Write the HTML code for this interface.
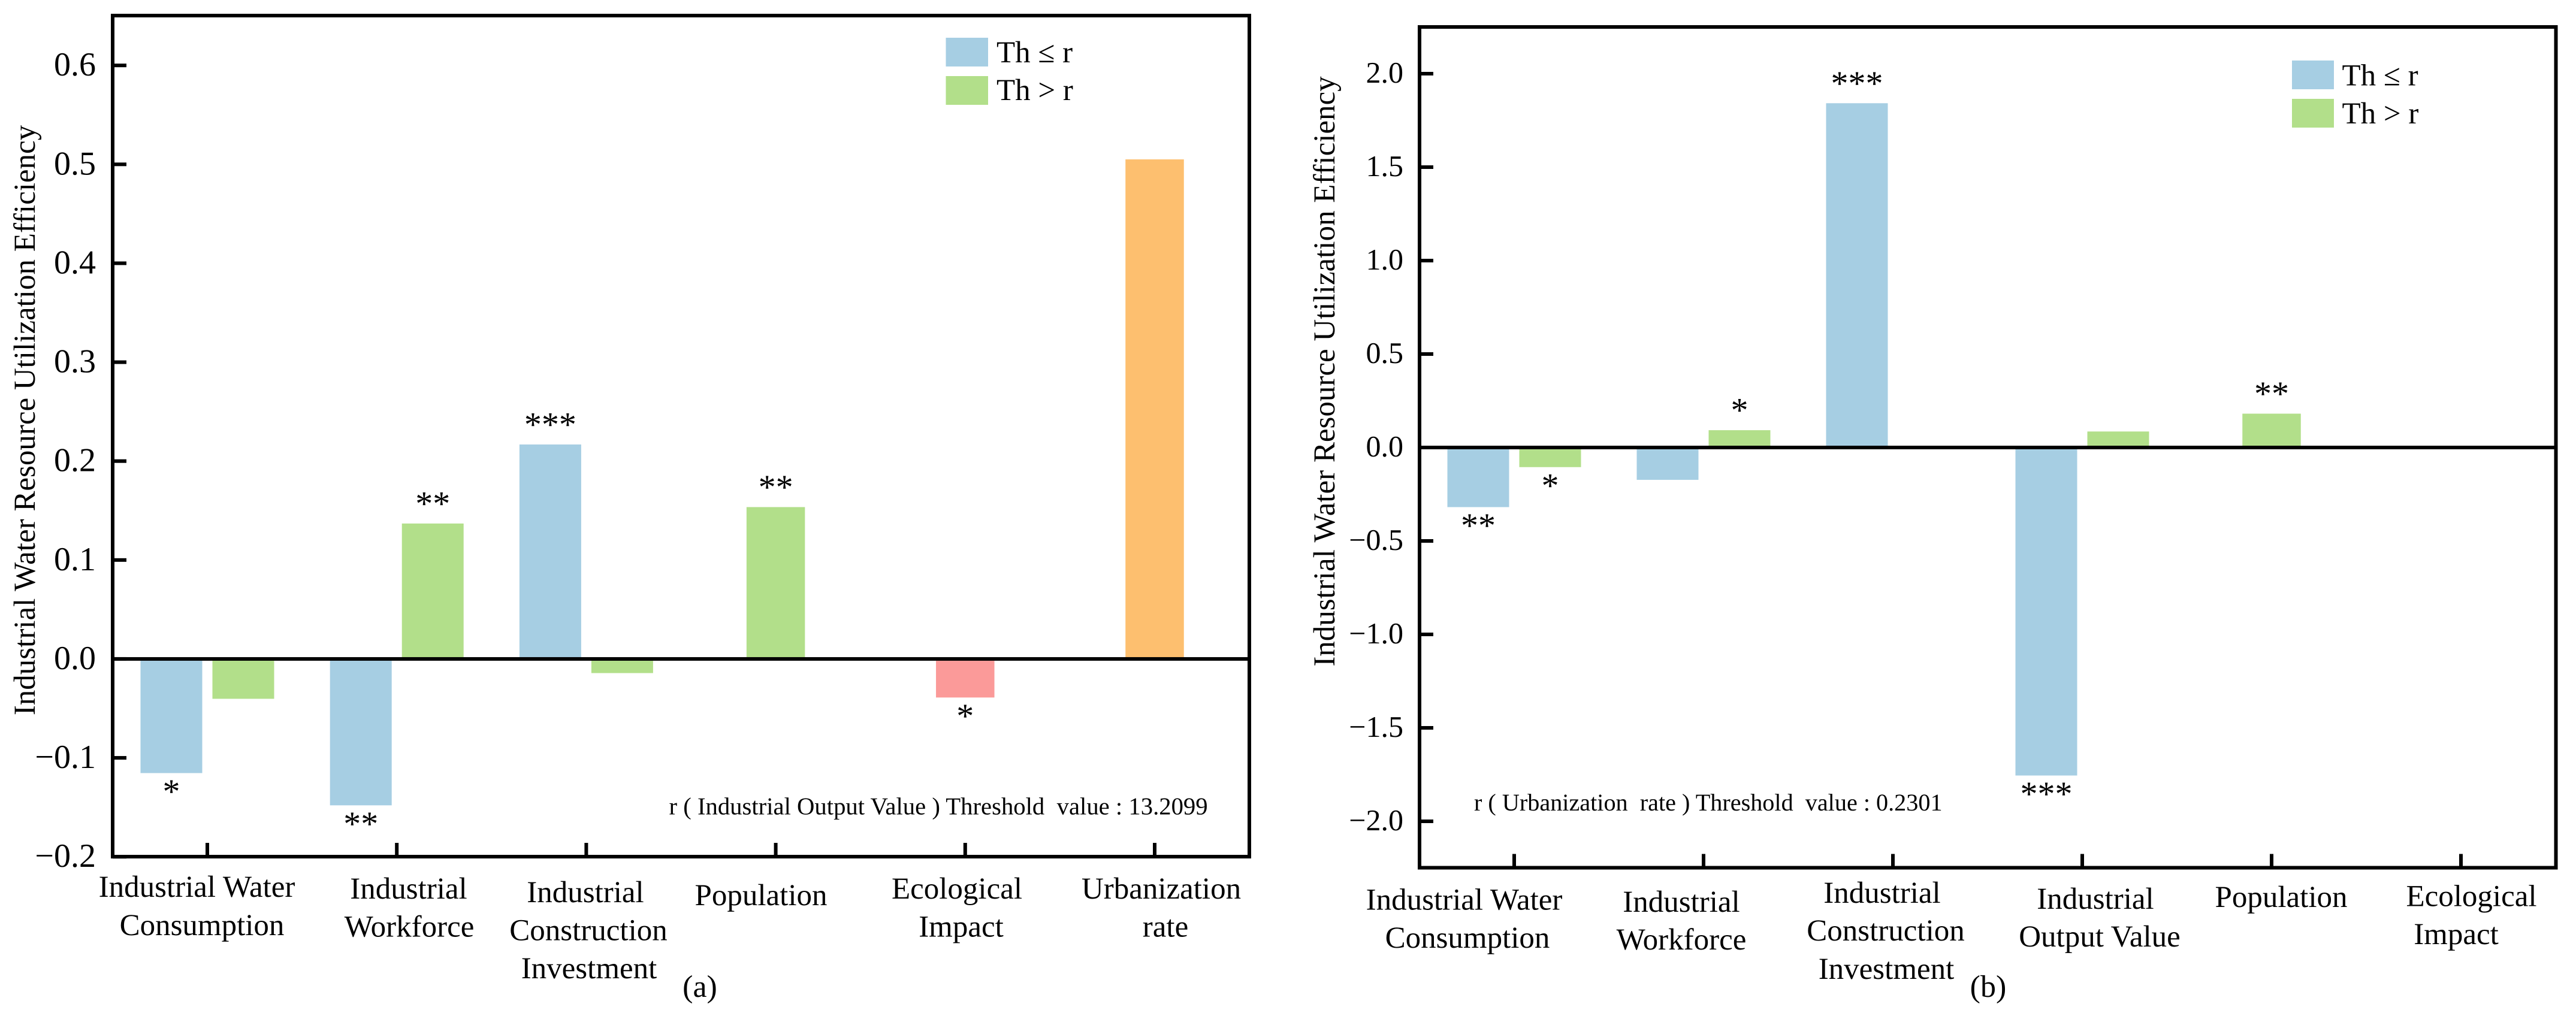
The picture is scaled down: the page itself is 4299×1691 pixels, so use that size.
<!DOCTYPE html>
<html lang="en">
<head>
<meta charset="utf-8">
<title>Threshold regression coefficients</title>
<style>
html,body{margin:0;padding:0;background:#fff;width:4299px;height:1691px;overflow:hidden}
svg{display:block;position:absolute;left:0;top:0}
text{font-family:"Liberation Serif","Times New Roman",serif;fill:#000;white-space:pre;text-rendering:geometricPrecision}
.cat{font-size:51px;text-anchor:middle}
.leg{font-size:51px}
.ann{font-size:40.2px}
.ann-a{font-size:40.7px}
.ylab{font-size:51px;text-anchor:middle}
.sub{font-size:52px;text-anchor:middle}
</style>
</head>
<body>
<svg id="figure" xmlns="http://www.w3.org/2000/svg" width="4299" height="1691" viewBox="0 0 4299 1691">
  <g id="chart-a">
    <text class="ylab" transform="translate(58,701.5) rotate(-90)">Industrial Water Resource Utilization Efficiency</text>
    <g id="plot-a"></g>
    <g>
      <text class="cat" x="328.5" y="1497">Industrial Water</text>
      <text class="cat" x="337" y="1561">Consumption</text>
      <text class="cat" x="682" y="1500">Industrial</text>
      <text class="cat" x="683" y="1563.5">Workforce</text>
      <text class="cat" x="977" y="1506">Industrial</text>
      <text class="cat" x="982" y="1569.5">Construction</text>
      <text class="cat" x="983" y="1633">Investment</text>
      <text class="cat" x="1270" y="1511">Population</text>
      <text class="cat" x="1597" y="1500">Ecological</text>
      <text class="cat" x="1604" y="1563.5">Impact</text>
      <text class="cat" x="1938" y="1500">Urbanization</text>
      <text class="cat" x="1945" y="1563.5">rate</text>
    </g>
    <g>
      <rect x="1578.5" y="63" width="70.5" height="48" fill="#A6CEE3"/>
      <text class="leg" x="1663" y="104">Th ≤ r</text>
      <rect x="1578.5" y="127" width="70.5" height="48" fill="#B2DF8A"/>
      <text class="leg" x="1663" y="167">Th &gt; r</text>
    </g>
    <text class="ann-a" x="1116.5" y="1359.5">r ( Industrial Output Value ) Threshold  value : 13.2099</text>
    <text class="sub" x="1168" y="1664">(a)</text>
  </g>
  <g id="chart-b">
    <text class="ylab" transform="translate(2227,620) rotate(-90)">Industrial Water Resource Utilization Efficiency</text>
    <g id="plot-b"></g>
    <g>
      <text class="cat" x="2443.5" y="1518.5">Industrial Water</text>
      <text class="cat" x="2449" y="1582">Consumption</text>
      <text class="cat" x="2806" y="1522">Industrial</text>
      <text class="cat" x="2806" y="1585">Workforce</text>
      <text class="cat" x="3141" y="1507">Industrial</text>
      <text class="cat" x="3147" y="1570">Construction</text>
      <text class="cat" x="3148" y="1634">Investment</text>
      <text class="cat" x="3497" y="1517">Industrial</text>
      <text class="cat" x="3504" y="1580">Output Value</text>
      <text class="cat" x="3807" y="1514">Population</text>
      <text class="cat" x="4124.5" y="1512.5">Ecological</text>
      <text class="cat" x="4099" y="1576">Impact</text>
    </g>
    <g>
      <rect x="3825" y="101" width="70" height="48" fill="#A6CEE3"/>
      <text class="leg" x="3908.5" y="142.5">Th ≤ r</text>
      <rect x="3825" y="165" width="70" height="48" fill="#B2DF8A"/>
      <text class="leg" x="3908.5" y="206">Th &gt; r</text>
    </g>
    <text class="ann" x="2460" y="1353">r ( Urbanization  rate ) Threshold  value : 0.2301</text>
    <text class="sub" x="3318" y="1664">(b)</text>
  </g>
</svg>
<script>
// ---- data: panel (a) ----
const categoriesA = ["Industrial Water Consumption", "Industrial Workforce", "Industrial Construction Investment", "Population", "Ecological Impact", "Urbanization rate"];
const thLowA  = [-0.1154, -0.148, 0.2168, null, null, null];
const thHighA = [-0.0403, 0.1369, -0.0143, 0.1535, null, null];
const ecologicalA = [null, null, null, null, -0.039, null];
const urbanizationA = [null, null, null, null, null, 0.505];
const thLowStarsA  = ["*", "**", "***", "", "", ""];
const thHighStarsA = ["", "**", "", "**", "", ""];
const ecologicalStarsA = ["", "", "", "", "*", ""];
const urbanizationStarsA = ["", "", "", "", "", ""];
const tickValuesA = [-0.2, -0.1, 0, 0.1, 0.2, 0.3, 0.4, 0.5, 0.6];
const tickLabelsA = ["\u22120.2", "\u22120.1", "0.0", "0.1", "0.2", "0.3", "0.4", "0.5", "0.6"];

// ---- data: panel (b) ----
const categoriesB = ["Industrial Water Consumption", "Industrial Workforce", "Industrial Construction Investment", "Industrial Output Value", "Population", "Ecological Impact"];
const thLowB  = [-0.319, -0.173, 1.842, -1.755, null, null];
const thHighB = [-0.105, 0.0926, null, 0.0856, 0.181, null];
const thLowStarsB  = ["**", "", "***", "***", "", ""];
const thHighStarsB = ["*", "*", "", "", "**", ""];
const tickValuesB = [-2, -1.5, -1, -0.5, 0, 0.5, 1, 1.5, 2];
const tickLabelsB = ["\u22122.0", "\u22121.5", "\u22121.0", "\u22120.5", "0.0", "0.5", "1.0", "1.5", "2.0"];

const NS = "http://www.w3.org/2000/svg";
const COLOR_LOW = "#A6CEE3", COLOR_HIGH = "#B2DF8A", COLOR_PINK = "#FB9A99", COLOR_ORANGE = "#FDBF6F";

function linearScale(d0, d1, r0, r1) {
  return function (v) { return r0 + (v - d0) * (r1 - r0) / (d1 - d0); };
}
function makeRect(parent, x, y, w, h, fill) {
  const r = document.createElementNS(NS, "rect");
  r.setAttribute("x", x);
  r.setAttribute("y", y);
  r.setAttribute("width", w);
  r.setAttribute("height", h);
  r.setAttribute("fill", fill);
  parent.appendChild(r);
  return r;
}
function makeText(parent, x, y, str, size, anchor) {
  const t = document.createElementNS(NS, "text");
  t.setAttribute("x", x);
  t.setAttribute("y", y);
  t.setAttribute("font-size", size);
  t.setAttribute("text-anchor", anchor);
  t.textContent = str;
  parent.appendChild(t);
  return t;
}
function drawBar(plot, xCenter, width, value, yScale, color, stars, id) {
  const y0 = yScale(0), yv = yScale(value);
  const r = makeRect(plot, xCenter - width / 2, Math.min(y0, yv), width, Math.abs(yv - y0), color);
  
  
  if (stars) {
    const t = makeText(plot, xCenter, value >= 0 ? yv - 14 : yv + 50, stars, 58, "middle");
    
    
  }
}
function drawPanel(cfg) {
  const plot = document.getElementById(cfg.plotId);
  const yScale = cfg.yScale;
  const xScale = function (i) { return cfg.x0 + i * cfg.step; };
  const n = cfg.categories.length;

  for (let i = 0; i < n; i++) {
    const low = cfg.low[i], high = cfg.high[i];
    const cx = xScale(i);
    if (low !== null) drawBar(plot, cx - 60, 103, low, yScale, COLOR_LOW, cfg.lowStars[i], cfg.tag + '-low-' + i);
    if (high !== null) {
      if (low !== null) drawBar(plot, cx + 60, 103, high, yScale, COLOR_HIGH, cfg.highStars[i], cfg.tag + '-high-' + i);
      else drawBar(plot, cx, 97.5, high, yScale, COLOR_HIGH, cfg.highStars[i], cfg.tag + '-high-' + i);
    }
    cfg.extras.forEach(function (ex, k) {
      if (ex.values[i] !== null) drawBar(plot, cx, 97.5, ex.values[i], yScale, ex.color, ex.stars[i], cfg.tag + '-extra-' + k + '-' + i);
    });
  }

  // frame
  const f = cfg.frame;
  const top = makeRect(plot, f.l - 3, f.t - 3, f.r - f.l + 6, 6, "#000");
  
  
  const right = makeRect(plot, f.r - 3, f.t - 3, 6, f.b - f.t + 6, "#000");
  
  
  const left = makeRect(plot, f.l - 3, f.t - 3, 6, f.b - f.t + 6, "#000");
  
  
  const bottom = makeRect(plot, f.l - 3, f.b - 3, f.r - f.l + 6, 6, "#000");
  
  
  const zero = makeRect(plot, f.l, yScale(0) - 3, f.r - f.l, 6, "#000");
  
  

  // y ticks
  cfg.tickValues.forEach(function (v, i) {
    const y = yScale(v);
    const tk = makeRect(plot, f.l, y - 3, 23, 6, "#000");
    
    
    const lb = makeText(plot, cfg.tickLabelRight, y + cfg.tickBaseline, cfg.tickLabels[i], cfg.tickFont, "end");
    
    
  });

  // x ticks
  for (let i = 0; i < n; i++) {
    const tk = makeRect(plot, xScale(i) - 3, f.b - 23, 6, 23, "#000");
    
    
  }
}

drawPanel({
  tag: "a", plotId: "plot-a", categories: categoriesA,
  low: thLowA, high: thHighA, lowStars: thLowStarsA, highStars: thHighStarsA,
  extras: [
    { values: ecologicalA, color: COLOR_PINK, stars: ecologicalStarsA },
    { values: urbanizationA, color: COLOR_ORANGE, stars: urbanizationStarsA }
  ],
  yScale: linearScale(-0.2, 0.6, 1430.2, 109.2),
  x0: 346, step: 316.2,
  frame: { l: 188, t: 26, r: 2085, b: 1430 },
  tickValues: tickValuesA, tickLabels: tickLabelsA,
  tickLabelRight: 160, tickBaseline: 17, tickFont: 56
});

drawPanel({
  tag: "b", plotId: "plot-b", categories: categoriesB,
  low: thLowB, high: thHighB, lowStars: thLowStarsB, highStars: thHighStarsB,
  extras: [],
  yScale: linearScale(-2, 2, 1371, 123),
  x0: 2527, step: 316,
  frame: { l: 2369, t: 45, r: 4265.5, b: 1448.5 },
  tickValues: tickValuesB, tickLabels: tickLabelsB,
  tickLabelRight: 2342, tickBaseline: 15, tickFont: 50
});
</script>
</body>
</html>
